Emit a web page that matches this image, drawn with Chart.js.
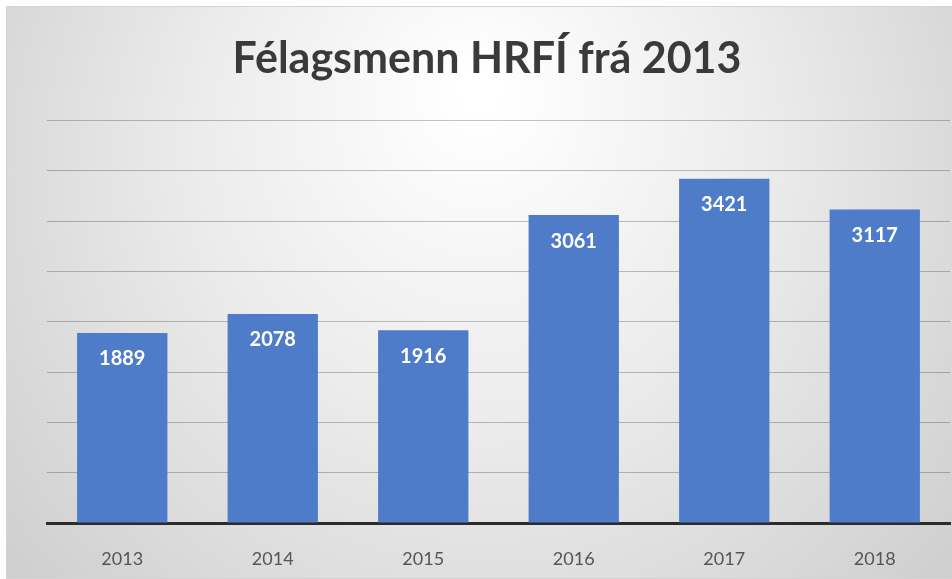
<!DOCTYPE html>
<html><head><meta charset="utf-8">
<script src="https://cdn.jsdelivr.net/npm/chart.js@4/dist/chart.umd.min.js"></script>
<style>html,body{margin:0;padding:0;background:#fff}#wrap{width:952px;height:579px;position:relative}</style>
</head><body><div id="wrap"><canvas id="c" width="952" height="579"></canvas></div>
<script>
const categories = ['2013','2014','2015','2016','2017','2018'];
const members = [1889, 2078, 1916, 3061, 3421, 3117];
const yTicks = [0, 500, 1000, 1500, 2000, 2500, 3000, 3500, 4000];
const titleText = 'Félagsmenn HRFÍ frá 2013';

const bgPlugin = {
  id: 'bg',
  beforeDraw(chart) {
    const ctx = chart.ctx;
    ctx.save();
    const x0 = 6, y0 = 6, w = 952 - x0, h = 579 - y0;
    const g = ctx.createRadialGradient(480, 90, 20, 480, 200, 620);
    g.addColorStop(0, '#ffffff');
    g.addColorStop(0.45, '#ebebeb');
    g.addColorStop(1, '#cdcdcd');
    ctx.fillStyle = g;
    ctx.fillRect(x0, y0, w, h);
    ctx.strokeStyle = '#d4d4d4';
    ctx.lineWidth = 1;
    ctx.strokeRect(x0 + 0.5, y0 + 0.5, w, h - 1);
    ctx.restore();
  }
};

const labelPlugin = {
  id: 'barLabels',
  afterDatasetsDraw(chart) {
    const ctx = chart.ctx;
    const meta = chart.getDatasetMeta(0);
    ctx.save();
    ctx.font = 'bold 20px Lato';
    ctx.fillStyle = '#ffffff';
    ctx.textAlign = 'center';
    ctx.textBaseline = 'middle';
    meta.data.forEach((bar, i) => {
      ctx.fillText(String(members[i]), bar.x, bar.y + 26);
    });
    ctx.restore();
  }
};

new Chart(document.getElementById('c'), {
  type: 'bar',
  data: {
    labels: categories,
    datasets: [{
      data: members,
      backgroundColor: '#4f7cc8',
      barPercentage: 0.6,
      categoryPercentage: 1.0
    }]
  },
  options: {
    responsive: false,
    animation: false,
    layout: { padding: { left: 24, right: 2, top: 0, bottom: 0 } },
    plugins: {
      legend: { display: false },
      tooltip: { enabled: false },
      title: {
        display: true,
        text: titleText,
        color: '#3a3a3a',
        font: { family: 'Lato', size: 43, weight: 'bold', lineHeight: 1.2 },
        padding: { top: 33, bottom: 36 }
      }
    },
    scales: {
      x: {
        grid: { display: false },
        border: { display: true, color: '#2b2b2b', width: 3 },
        ticks: { color: '#555555', font: { family: 'Lato', size: 18 }, padding: 17 },
        afterFit(s) { s.height = 56; }
      },
      y: {
        min: 0, max: 4000,
        afterBuildTicks(s) { s.ticks = yTicks.map(v => ({ value: v })); },
        grid: { color: 'rgba(0,0,0,0.24)', lineWidth: 1, drawTicks: false },
        border: { display: false },
        ticks: { display: false },
        afterFit(s) { s.width = 23; }
      }
    }
  },
  plugins: [bgPlugin, labelPlugin]
});
</script></body></html>
